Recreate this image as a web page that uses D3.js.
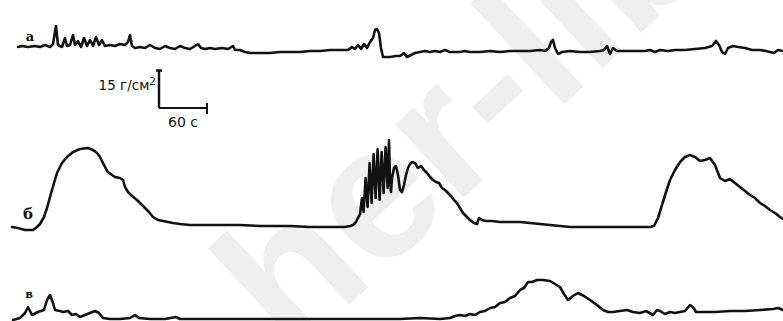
<!DOCTYPE html>
<html>
<head>
<meta charset="utf-8">
<script src="https://cdn.jsdelivr.net/npm/d3@7"></script>
<style>
  html, body { margin: 0; padding: 0; background: #fff; }
  svg { display: block; }
</style>
</head>
<body>
<svg id="chart" width="783" height="321"></svg>
<script>
// Pressure recordings: time (s) and pressure (г/см²) above each trace's baseline
const traceA = [
  [22.5,3.6],[27.5,4.0],[35,3.6],[43.75,4.0],[50,3.6],[56.25,4.4],[62.5,3.6],[66.25,4.8],[70,12.0],[72.5,4.4],
  [77.5,3.6],[81.25,7.2],[83.75,4.0],[87.5,4.4],[91.25,8.4],[93.75,4.4],[97.5,6.0],[101.25,3.6],[105,7.2],[108.75,4.0],
  [112.5,6.4],[116.25,4.0],[120,7.6],[123.75,4.4],[127.5,6.4],[131.25,4.0],[137.5,4.4],[143.75,4.0],[150,4.8],[156.25,4.4],
  [160,5.6],[162.5,8.4],[165,4.0],[168.75,3.2],[175,3.6],[181.25,3.2],[187.5,4.4],[193.75,3.2],[200,2.8],[206.25,4.0],
  [212.5,3.2],[218.75,2.8],[225,4.0],[231.25,3.2],[237.5,2.8],[243.75,4.0],[247.5,4.8],[251.25,3.2],[256.25,2.8],[262.5,3.2],
  [268.75,2.8],[277.5,3.2],[285,2.8],[291.25,4.0],[293.75,2.4],[300,2.4],[306.25,1.6],[312.5,1.2],[325,1.2],[337.5,1.2],
  [350,1.6],[362.5,1.6],[375,1.6],[387.5,2.0],[400,2.0],[412.5,2.4],[425,2.4],[435,2.4],[440,3.6],[443.75,2.8],
  [447.5,4.4],[451.25,2.8],[455,4.8],[458.75,3.2],[462.5,5.6],[466.25,7.2],[468.75,10.4],[471.25,10.8],[473.75,9.2],[476.25,3.2],
  [478.75,-0.4],[487.5,-0.4],[495,0],[500,0],[505,1.2],[508.75,-0.4],[513.75,0.4],[518.75,1.2],[525,1.6],[531.25,2.0],
  [537.5,1.6],[543.75,2.0],[550,1.6],[556.25,2.4],[562.5,1.6],[575,1.6],[581.25,2.0],[587.5,1.6],[600,1.6],[612.5,2.0],
  [625,1.6],[637.5,2.0],[650,2.0],[662.5,2.0],[675,2.4],[681.25,2.0],[686.25,3.2],[688.75,5.6],[691.25,6.4],[693.75,3.2],
  [697.5,0.8],[702.5,1.6],[712.5,2.0],[725,1.6],[737.5,1.6],[750,2.0],[755,2.4],[758.75,4.0],[762.5,0.8],[766.25,3.2],
  [771.25,2.0],[781.25,2.0],[793.75,2.0],[806.25,2.0],[812.5,2.4],[818.75,1.6],[825,2.4],[835,2.0],[843.75,2.4],[856.25,2.4],
  [868.75,2.8],[881.25,3.2],[890,4.0],[895,6.0],[898.75,4.4],[902.5,1.6],[906.25,0.8],[910,3.2],[916.25,4.0],[922.5,3.6],
  [931.25,3.2],[940,2.4],[950,2.4],[957.5,2.0],[962.5,1.6],[967.5,1.2],[972.5,2.4],[978.75,2.0]
];

const traceB = [
  [15,0.4],[22.5,0],[31.25,-0.8],[41.25,-0.8],[46.25,0.4],[50,1.6],[55,4.4],[58.75,8],[62.5,12.4],[67.5,18],
  [71.25,22],[77.5,26],[83.75,28.4],[91.25,30.4],[100,31.6],[110,32],[116.25,31.2],[121.25,30],[125,28.4],[128.75,26],
  [132.5,23.6],[135,22.4],[140,21.2],[143.75,20.4],[150,20],[153.75,19.2],[156.25,16.4],[160,14.4],[165,12.8],[171.25,11.2],
  [176.25,9.6],[181.25,8],[186.25,6.4],[191.25,4.4],[197.5,3.2],[203.75,2.8],[210,2.4],[216.25,2],[225,1.6],[237.5,1.2],
  [250,1.2],[275,1.2],[300,1.2],[325,0.8],[343.75,0.8],[362.5,0.8],[387.5,0.4],[412.5,0.4],[431.25,0.4],[437.5,0.8],
  [441.25,1.2],[445,2.4],[447.5,4],[450,5.6],[452.5,12],[454.5,6.4],[457,20],[459.5,8.4],[462,26],[464.5,10],
  [467,29.5],[469.5,12],[472,31.5],[474.5,11.2],[477,30.4],[479.5,14],[482,32.4],[484.5,16],[486.25,35.2],[487.5,19.2],
  [488.75,14.4],[490,20],[492.5,24],[495,24.8],[497.5,21.2],[500,15.2],
  [502.5,14.4],[505,17.2],[507.5,21.2],[510,24],[512.5,25.6],[515,26.4],[518.75,26],[522.5,24],[526.25,24.8],[530,23.2],
  [533.75,22],[537.5,20.4],[541.25,19.2],[545,18.4],[548.75,18],[552.5,16],[556.25,15.2],[560,14],[563.75,12.8],[567.5,11.2],
  [571.25,10],[575,8],[578.75,6],[582.5,4.8],[587.5,3.2],[592.5,2],[596.25,1.6],[598.75,4],[602.5,3.2],[607.5,2.8],
  [615,2.8],[625,2.4],[637.5,2.4],[650,2.4],[662.5,2],[675,1.6],[687.5,1.2],[700,0.8],[712.5,0.4],[725,0.4],
  [750,0.4],[775,0.4],[800,0.4],[812.5,0.4],[817.5,0.8],[822.5,4],[827.5,9.2],[832.5,14.4],[837.5,19.2],[843.75,23.2],
  [850,26.4],[856.25,28.4],[862.5,29.2],[868.75,28.4],[875,26.8],[881.25,27.2],[887.5,28],[893.75,25.2],[900,20],[906.25,18.8],
  [912.5,19.6],[918.75,18],[925,16.4],[931.25,14.8],[937.5,13.2],[943.75,12],[950,10],[956.25,8.8],[962.5,7.2],[968.75,6],
  [975,4.4],[978.75,3.6]
];

const traceC = [
  [16.25,-0.4],[25,0.4],[31.25,2.4],[35,4.8],[40,1.6],[47.5,2.8],[55,3.6],[58.75,7.6],[62.5,9.6],[66.25,6.4],
  [68.75,3.6],[75,3.2],[78.75,2.8],[85,3.2],[90,1.6],[95,2],[100,0.8],[106.25,1.6],[112.5,2.4],[118.75,3.2],
  [123.75,2.4],[128.75,0.4],[137.5,0],[150,0],[162.5,0.4],[168.75,1.6],[173.75,0.4],[187.5,0],[206.25,0],[220,0.8],
  [225,0],[250,0],[287.5,0],[325,0],[362.5,0],[400,0],[437.5,0],[475,0],[500,0],[525,0.4],
  [550,0],[562.5,0.4],[568.75,1.2],[575,1.6],[581.25,1.2],[587.5,2],[593.75,1.6],[600,2.8],[606.25,3.2],[612.5,4.4],
  [618.75,4.8],[625,6.4],[631.25,6.8],[637.5,8.4],[643.75,9.2],[650,11.6],[655,12.4],[660,14.8],[665,14.8],[671.25,15.6],
  [678.75,15.6],[687.5,15.2],[693.75,14],[700,12.8],[705,10],[710,7.6],[716.25,9.2],[722.5,10.4],[730,9.2],[737.5,7.6],
  [746.25,5.6],[753.75,3.6],[760,2.8],[766.25,2.8],[775,3.2],[783.75,3.6],[791.25,2.8],[800,2.4],[807.5,3.2],[816.25,1.6],
  [821.25,3.6],[825,3.2],[831.25,2],[837.5,2.8],[843.75,2.4],[850,2.8],[856.25,3.2],[862.5,5.6],[866.25,4.8],[870,2.8],
  [881.25,2.8],[893.75,2.8],[912.5,3.2],[931.25,3.2],[950,3.6],[966.25,4],[972.5,4.4],[978.75,3.6]
];

const traceLabels = ["а", "б", "в"];
const scaleBarValue = 15;   // г/см²
const scaleBarTime = 60;    // с
const scaleBarUnits = ["15 г/см", "60 с"];
const watermarkText = "her-lib.ru";

const svg = d3.select("#chart");
const W = 783, H = 321;

// shared time axis: 0.8 px per second
const x = d3.scaleLinear().domain([0, 978.75]).range([0, W]);

// one pressure scale per trace, 2.5 px per г/см²
const tracks = [
  { data: traceA, base: 56,  label: traceLabels[0], lx: 30, ly: 41, size: 13 },
  { data: traceB, base: 228, label: traceLabels[1], lx: 28, ly: 219, size: 15 },
  { data: traceC, base: 319, label: traceLabels[2], lx: 29, ly: 298, size: 11 }
];
tracks.forEach(tr => {
  tr.y = d3.scaleLinear().domain([0, 10]).range([tr.base, tr.base - 25]);
});

// faint diagonal watermark behind the traces
svg.append("text")
  .attr("transform", "translate(292,358) rotate(-43)")
  .attr("font-family", "Liberation Sans, Arial, sans-serif")
  .attr("font-weight", "bold")
  .attr("font-size", 190)
  .attr("fill", "#efefef")
  .text(watermarkText);

// traces
tracks.forEach(tr => {
  const line = d3.line()
    .x(d => x(d[0]))
    .y(d => tr.y(d[1]))
    .curve(d3.curveLinear);
  svg.append("path")
    .datum(tr.data)
    .attr("d", line)
    .attr("fill", "none")
    .attr("stroke", "#111")
    .attr("stroke-width", 2.6)
    .attr("stroke-linejoin", "round")
    .attr("stroke-linecap", "round");

  svg.append("text")
    .attr("x", tr.lx)
    .attr("y", tr.ly)
    .attr("font-family", "DejaVu Serif, serif")
    .attr("font-weight", "bold")
    .attr("font-size", tr.size)
    .attr("fill", "#111")
    .attr("text-anchor", "middle")
    .text(tr.label);
});

// calibration bar: 15 г/см² vertical, 60 с horizontal
const bx = 159, by = 108;
const yA = tracks[0].y;
const barH = yA(0) - yA(scaleBarValue);
const barW = x(scaleBarTime) - x(0);
const g = svg.append("g").attr("stroke", "#111").attr("stroke-width", 2.4).attr("fill", "none");
g.append("path").attr("d", `M${bx},${by} V${by - barH} M${bx - 3},${by - barH} H${bx + 3}`);
g.append("path").attr("d", `M${bx},${by} H${bx + barW} M${bx + barW},${by - 5} V${by + 6}`).attr("stroke-width", 2);

const lbl = svg.append("text")
  .attr("x", bx - 3)
  .attr("y", 90)
  .attr("text-anchor", "end")
  .attr("font-family", "DejaVu Sans, sans-serif")
  .attr("font-size", 13.5)
  .attr("fill", "#111");
lbl.append("tspan").text(scaleBarUnits[0]);
lbl.append("tspan").attr("dy", -5).attr("font-size", 10.5).text("2");

svg.append("text")
  .attr("x", bx + 24)
  .attr("y", 127)
  .attr("text-anchor", "middle")
  .attr("font-family", "DejaVu Sans, sans-serif")
  .attr("font-size", 14)
  .attr("fill", "#111")
  .text(scaleBarUnits[1]);
</script>
</body>
</html>
